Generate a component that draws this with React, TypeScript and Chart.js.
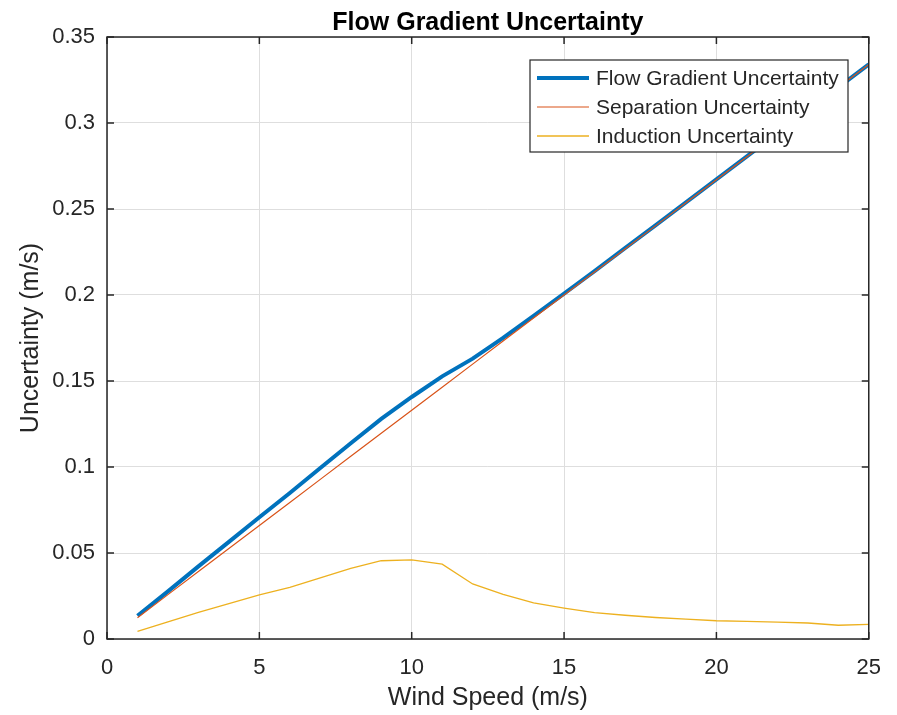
import React, { useEffect, useRef } from "react";
import { Chart, registerables } from "chart.js";

Chart.register(...registerables);

const chartTitle = "Flow Gradient Uncertainty";
const xAxisTitle = "Wind Speed (m/s)";
const yAxisTitle = "Uncertainty (m/s)";

const windSpeed = [1, 2, 3, 4, 5, 6, 7, 8, 9, 10, 11, 12, 13, 14, 15, 16, 17, 18, 19, 20, 21, 22, 23, 24, 25];
const flowGradient = [
  0.0135, 0.0277, 0.0422, 0.0565, 0.0708, 0.0849, 0.0994, 0.1138, 0.128, 0.1407, 0.1527, 0.163, 0.1751,
  0.1878, 0.2008, 0.2139, 0.2272, 0.2405, 0.2539, 0.2672, 0.2806, 0.294, 0.3073, 0.3207, 0.3341,
];
const separation = [
  0.0124, 0.0258, 0.0392, 0.0526, 0.066, 0.0794, 0.0928, 0.1062, 0.1196, 0.133, 0.1464, 0.1598, 0.1732,
  0.1866, 0.2, 0.2134, 0.2268, 0.2402, 0.2536, 0.267, 0.2804, 0.2938, 0.3072, 0.3206, 0.334,
];
const induction = [
  0.0045, 0.01, 0.0155, 0.0205, 0.0256, 0.03, 0.0355, 0.041, 0.0455, 0.046, 0.0435, 0.032, 0.026, 0.021,
  0.018, 0.0153, 0.0138, 0.0125, 0.0115, 0.0106, 0.0102, 0.0098, 0.0093, 0.008, 0.0085,
];

const seriesLabels = ["Flow Gradient Uncertainty", "Separation Uncertainty", "Induction Uncertainty"];
const seriesColors = ["#0072BD", "#D95319", "#EDB120"];
const seriesWidths = [4, 1.2, 1.3];

const xTickValues = [0, 5, 10, 15, 20, 25];
const yTickValues = [0, 0.05, 0.1, 0.15, 0.2, 0.25, 0.3, 0.35];
const yTickLabels = ["0", "0.05", "0.1", "0.15", "0.2", "0.25", "0.3", "0.35"];

const FONT = "'Liberation Sans', Arial, Helvetica, sans-serif";
const TEXT = "#262626";

const decorPlugin = {
  id: "matlabDecor",
  afterDraw(chart: any) {
    const { ctx, chartArea: a, scales } = chart;
    const xs = scales.x;
    const ys = scales.y;
    ctx.save();
    // frame
    ctx.strokeStyle = TEXT;
    ctx.lineWidth = 1.5;
    ctx.strokeRect(a.left, a.top, a.right - a.left, a.bottom - a.top);
    // inward ticks
    const tl = 7;
    ctx.beginPath();
    xTickValues.forEach((v) => {
      const px = xs.getPixelForValue(v);
      ctx.moveTo(px, a.bottom);
      ctx.lineTo(px, a.bottom - tl);
      ctx.moveTo(px, a.top);
      ctx.lineTo(px, a.top + tl);
    });
    yTickValues.forEach((v) => {
      const py = ys.getPixelForValue(v);
      ctx.moveTo(a.left, py);
      ctx.lineTo(a.left + tl, py);
      ctx.moveTo(a.right, py);
      ctx.lineTo(a.right - tl, py);
    });
    ctx.stroke();

    // title
    ctx.fillStyle = "#000";
    ctx.font = `bold 25px ${FONT}`;
    ctx.textAlign = "center";
    ctx.textBaseline = "alphabetic";
    ctx.fillText(chartTitle, (a.left + a.right) / 2, 30);

    // legend
    const lx = 530, ly = 60, lw = 318, lh = 92;
    ctx.fillStyle = "#fff";
    ctx.fillRect(lx, ly, lw, lh);
    ctx.strokeStyle = TEXT;
    ctx.lineWidth = 1.2;
    ctx.strokeRect(lx, ly, lw, lh);
    ctx.font = `21px ${FONT}`;
    ctx.textAlign = "left";
    ctx.textBaseline = "middle";
    seriesLabels.forEach((lab, i) => {
      const cy = 78 + i * 29;
      ctx.strokeStyle = seriesColors[i];
      ctx.lineWidth = seriesWidths[i];
      ctx.beginPath();
      ctx.moveTo(537, cy);
      ctx.lineTo(589, cy);
      ctx.stroke();
      ctx.fillStyle = TEXT;
      ctx.fillText(lab, 596, cy + 1);
    });
    ctx.restore();
  },
};

export default function App() {
  const ref = useRef<HTMLCanvasElement | null>(null);

  useEffect(() => {
    if (!ref.current) return;
    const seriesData = [flowGradient, separation, induction];
    const chart = new Chart(ref.current, {
      type: "line",
      data: {
        labels: windSpeed,
        datasets: seriesData.map((vals, i) => ({
          label: seriesLabels[i],
          data: windSpeed.map((w, j) => ({ x: w, y: vals[j] })),
          borderColor: seriesColors[i],
          borderWidth: seriesWidths[i],
          pointRadius: 0,
          tension: 0,
          fill: false,
          order: 3 - i,
        })),
      },
      options: {
        responsive: false,
        animation: false,
        layout: { padding: { top: 37, right: 27, left: 0, bottom: 0 } },
        plugins: {
          legend: { display: false },
          title: { display: false },
          tooltip: { enabled: false },
        },
        scales: {
          x: {
            type: "linear",
            min: 0,
            max: 25,
            afterFit(scale: any) {
              scale.height = 76;
            },
            afterBuildTicks(scale: any) {
              scale.ticks = xTickValues.map((v) => ({ value: v }));
            },
            ticks: {
              color: TEXT,
              font: { family: FONT, size: 22 },
              padding: 16,
              maxRotation: 0,
            },
            grid: { color: "#dedede", lineWidth: 1, drawTicks: false },
            border: { display: false },
            title: {
              display: true,
              text: xAxisTitle,
              color: TEXT,
              font: { family: FONT, size: 25 },
              padding: { top: 0, bottom: 2 },
            },
          },
          y: {
            type: "linear",
            min: 0,
            max: 0.35,
            afterFit(scale: any) {
              scale.width = 107;
            },
            afterBuildTicks(scale: any) {
              scale.ticks = yTickValues.map((v) => ({ value: v }));
            },
            ticks: {
              color: TEXT,
              font: { family: FONT, size: 22 },
              padding: 12,
              callback: (_v: any, i: number) => yTickLabels[i],
            },
            grid: { color: "#dedede", lineWidth: 1, drawTicks: false },
            border: { display: false },
            title: {
              display: true,
              text: yAxisTitle,
              color: TEXT,
              font: { family: FONT, size: 25 },
              padding: { top: 16, bottom: 0 },
            },
          },
        },
      },
      plugins: [decorPlugin],
    });
    return () => chart.destroy();
  }, []);

  return (
    <div style={{ position: "absolute", left: 0, top: 0, width: 897, height: 715, background: "#fff" }}>
      <canvas ref={ref} width={897} height={715} style={{ display: "block" }} />
    </div>
  );
}
